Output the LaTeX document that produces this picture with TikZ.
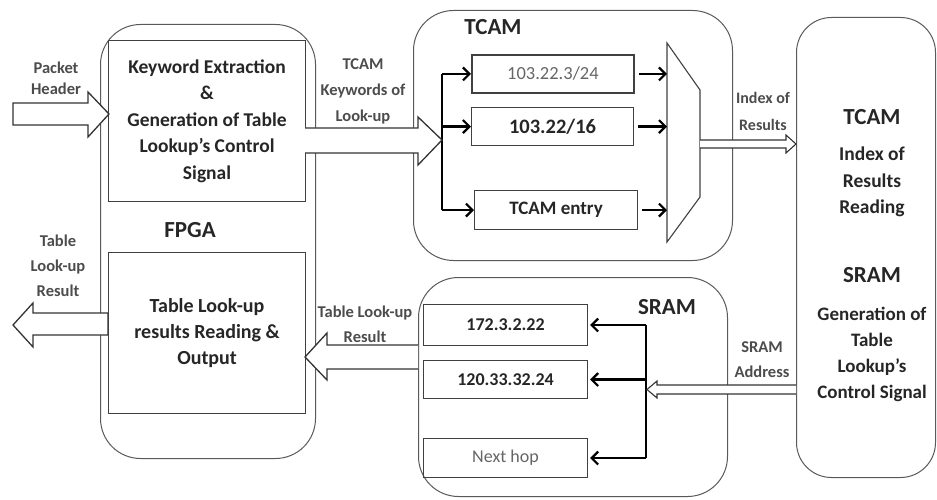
\documentclass[tikz,border=0pt]{standalone}
\usepackage{fontspec}
\setmainfont{Carlito}
\usetikzlibrary{arrows.meta,calc}
\tikzset{
  outer/.style={draw=black!65, line width=1pt, rounded corners=#1, inner sep=0pt, anchor=north west},
  inbox/.style={draw=black!75, line width=1.1pt, inner sep=0pt, anchor=north west, align=center},
  boxtxt/.style={font=\fontsize{19.5}{26.5}\selectfont\bfseries, text=black!85, align=center},
  lbl/.style={font=\fontsize{16.5}{25}\selectfont\bfseries, text=black!70, align=center, inner sep=0pt},
  big/.style={font=\fontsize{23}{28}\selectfont\bfseries, text=black!85, inner sep=0pt},
  entry/.style={font=\fontsize{18}{22}\selectfont\bfseries, text=black!85},
  entryreg/.style={font=\fontsize{18}{22}\selectfont, text=black!60},
  bus/.style={line width=2.4pt, black},
  busarrow/.style={bus, -{Straight Barb[length=6.5pt,width=13pt,line width=2.2pt]}},
  hollow/.style={draw=black!80, line width=1.3pt, fill=white, line join=miter},
  thinhollow/.style={draw=black!80, line width=1.1pt, fill=white, line join=miter},
  muxst/.style={draw=black!75, line width=1.1pt}
}
\begin{document}
\begin{tikzpicture}[x=1pt,y=-1pt]
\useasboundingbox (0,0) rectangle (937,500);

% ---------- FPGA ----------
\node[outer=40pt, minimum width=215pt, minimum height=434pt] (fpga) at (100,24) {};
\node[inbox, boxtxt, minimum width=197pt, minimum height=161pt] (kw) at (108,40)
  {Keyword Extraction\\\&\\Generation of Table\\Lookup’s Control\\Signal};
\node[inbox, boxtxt, font=\fontsize{20}{26}\selectfont\bfseries, minimum width=197pt, minimum height=161pt] (res) at (108,252)
  {Table Look-up\\results Reading \&\\Output};
\node[big] (fpgalbl) at (190,230) {FPGA};

% ---------- TCAM ----------
\node[outer=40pt, minimum width=319pt, minimum height=250pt] (tcam) at (413,10) {};
\node[big] (tcamlbl) at (493,27) {TCAM};
\node[inbox, entryreg, font=\fontsize{18.5}{22}\selectfont, line width=1.8pt, minimum width=162pt, minimum height=38pt] (t1) at (471,54) {103.22.3/24};
\node[inbox, entry, font=\fontsize{20.5}{22}\selectfont\bfseries, minimum width=162pt, minimum height=38pt] (t2) at (471,107) {103.22/16};
\node[inbox, entry, font=\fontsize{19}{22}\selectfont\bfseries, minimum width=163pt, minimum height=39pt] (t3) at (474,190) {TCAM entry};

\coordinate (m1) at (667,43);
\coordinate (m2) at (700,90);
\coordinate (m3) at (700,197);
\coordinate (m4) at (667,242);
\draw[muxst] (m1) -- (m2) -- (m3) -- (m4) -- cycle;

\coordinate (tb) at (442,0);
\draw[bus] (t1.west -| tb) -- (t3.west -| tb);
\draw[busarrow] (t1.west -| tb) -- (t1.west);
\draw[busarrow] (t2.west -| tb) -- (t2.west);
\draw[busarrow] (t3.west -| tb) -- (t3.west);
\draw[busarrow] ($(t1.east)+(4,0)$) -- (t1.east -| m1);
\draw[busarrow] ($(t2.east)+(4,0)$) -- (t2.east -| m1);
\draw[busarrow] ($(t3.east)+(4,0)$) -- (t3.east -| m1);

% ---------- right block ----------
\node[outer=35pt, minimum width=139pt, minimum height=460pt] (ctrl) at (796,17) {};
\node[big] (rt1) at (872,117) {TCAM};
\node[boxtxt, inner sep=0pt] (rt2) at (872,182) {Index of\\Results\\Reading};
\node[big] (rt3) at (872,275) {SRAM};
\node[boxtxt, inner sep=0pt, font=\fontsize{19}{26}\selectfont\bfseries] (rt4) at (872,354) {Generation of\\Table\\Lookup’s\\Control Signal};

% ---------- SRAM ----------
\node[outer=40pt, minimum width=309pt, minimum height=219pt] (sram) at (418,277) {};
\node[big] (sramlbl) at (667,307) {SRAM};
\node[inbox, entry, minimum width=164pt, minimum height=41pt] (s1) at (423,304) {172.3.2.22};
\node[inbox, entry, minimum width=164pt, minimum height=38pt] (s2) at (423,360) {120.33.32.24};
\node[inbox, entryreg, minimum width=164pt, minimum height=39pt] (s3) at (423,438) {Next hop};

\coordinate (sb) at (646,0);
\draw[bus] (s1.east -| sb) -- (s3.east -| sb);
\draw[busarrow] (s1.east -| sb) -- ($(s1.east)+(2,0)$);
\draw[busarrow] (s2.east -| sb) -- ($(s2.east)+(2,0)$);
\draw[busarrow] (s3.east -| sb) -- ($(s3.east)+(2,0)$);

% ---------- block arrows ----------
\draw[hollow] (13,103) -- (88,103) -- (88,92) -- (109,114) -- (88,137) -- (88,125) -- (13,125) -- cycle;
\draw[hollow] (108,313) -- (33,313) -- (33,303) -- (13,325) -- (33,347) -- (33,335) -- (108,335) -- cycle;
\draw[hollow] (305,128) -- (418,128) -- (418,117) -- (442,140) -- (418,165) -- (418,153) -- (305,153);
\draw[hollow] (418,345) -- (327,345) -- (327,333) -- (305,357) -- (327,380) -- (327,369) -- (418,369);
\draw[thinhollow] (700,140) -- (786,140) -- (786,135) -- (796,144) -- (786,153) -- (786,148) -- (700,148);
\draw[thinhollow] (796,385) -- (657,385) -- (657,381) -- (647,389.5) -- (657,398) -- (657,394) -- (796,394);

% ---------- labels ----------
\node[lbl, font=\fontsize{16.5}{21}\selectfont\bfseries] (lpk) at (56,78) {Packet\\Header};
\node[lbl] (lres) at (58,266) {Table\\Look-up\\Result};
\node[lbl, font=\fontsize{16.5}{26}\selectfont\bfseries] (lkw) at (363,91) {TCAM\\Keywords of\\Look-up};
\node[lbl] (lmid) at (365,324) {Table Look-up\\Result};
\node[lbl, font=\fontsize{16}{27}\selectfont\bfseries] (lidx) at (763,111) {Index of\\Results};
\node[lbl] (ladr) at (762,360) {SRAM\\Address};
\end{tikzpicture}
\end{document}
